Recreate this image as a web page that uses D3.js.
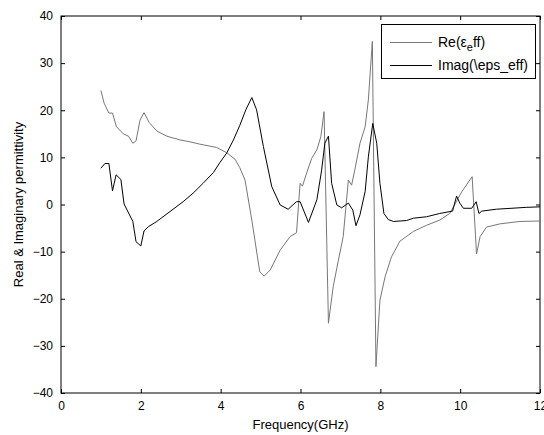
<!DOCTYPE html>
<html lang="en">
<head>
    <meta charset="UTF-8">
    <title>Real & Imaginary permittivity</title>
    <style>
        body { margin: 0; background: #fff; }
        svg { display: block; font-family: "Liberation Sans", Arial, sans-serif; }
    </style>
</head>
<body>
    <div id="chart"></div>

    <script src="https://d3js.org/d3.v7.min.js"></script>
    <script>
        // Re(eps_eff)
        const reFreq = [1.00, 1.08, 1.20, 1.29, 1.39, 1.56, 1.69, 1.80, 1.88, 1.98, 2.08, 2.21, 2.40, 2.65, 2.98,
            3.23, 3.48, 3.90, 4.15, 4.36, 4.48, 4.61, 4.78, 4.98, 5.09, 5.24, 5.49, 5.74, 5.90, 5.99,
            6.05, 6.14, 6.28, 6.41, 6.51, 6.59, 6.70, 6.82, 6.95, 7.07, 7.20, 7.28, 7.36, 7.49, 7.62,
            7.70, 7.80, 7.89, 7.99, 8.12, 8.28, 8.49, 8.83, 9.16, 9.49, 9.74, 10.04, 10.30, 10.41, 10.50,
            10.66, 11.00, 11.50, 12.00];
        const reVals = [24.2, 21.5, 19.4, 19.4, 16.5, 15.0, 14.5, 13.0, 13.5, 17.9, 19.5, 17.4, 15.6, 14.5, 13.7,
            13.3, 12.8, 12.1, 11.0, 9.6, 7.8, 5.2, -3.3, -14.3, -15.2, -13.9, -9.7, -6.8, -6.0, 4.5,
            3.9, 6.3, 9.8, 11.6, 14.4, 19.7, -25.2, -17.4, -11.8, -6.8, 5.2, 4.1, 7.3, 13.0, 16.5,
            22.2, 34.6, -34.4, -20.3, -15.3, -11.1, -7.8, -5.7, -4.4, -3.3, -1.9, 2.7, 5.9, -10.5, -6.8,
            -4.8, -4.1, -3.6, -3.5];

        // Imag(eps_eff)
        const imFreq = [1.00, 1.10, 1.20, 1.29, 1.38, 1.50, 1.58, 1.80, 1.88, 2.00, 2.08, 2.19, 2.40, 2.73, 3.06,
            3.31, 3.56, 3.82, 3.98, 4.15, 4.32, 4.48, 4.63, 4.78, 4.90, 5.07, 5.28, 5.49, 5.69, 5.90,
            5.99, 6.20, 6.41, 6.53, 6.61, 6.70, 6.78, 6.91, 7.03, 7.20, 7.31, 7.39, 7.49, 7.62, 7.70,
            7.81, 7.91, 7.99, 8.09, 8.20, 8.33, 8.66, 8.83, 9.16, 9.49, 9.81, 9.91, 9.99, 10.08, 10.29,
            10.40, 10.47, 10.54, 10.91, 11.67, 12.00];
        const imVals = [7.7, 8.7, 8.7, 2.9, 6.3, 5.3, 0.1, -3.6, -7.9, -8.8, -5.6, -4.7, -3.6, -1.5, 0.6,
            2.4, 4.5, 6.8, 8.9, 10.9, 13.7, 16.8, 20.1, 22.7, 20.1, 12.3, 3.8, -0.1, -1.0, 0.6,
            0.6, -3.8, 1.0, 7.3, 13.0, 14.5, 4.5, -0.1, -0.7, 0.3, -1.2, -4.5, -2.2, 2.8, 10.1,
            17.2, 13.0, 4.5, -1.9, -3.2, -3.6, -3.4, -2.9, -2.6, -1.9, -1.4, 1.8, 0.3, -0.8, -0.8,
            0.6, -1.9, -1.4, -1.0, -0.6, -0.5];

        const xTicks = [0, 2, 4, 6, 8, 10, 12];
        const yTicks = [-40, -30, -20, -10, 0, 10, 20, 30, 40];

        const width = 544;
        const height = 435;
        const margin = { top: 16, right: 4, bottom: 42, left: 61 };
        const plotW = width - margin.left - margin.right;
        const plotH = height - margin.top - margin.bottom;

        const svg = d3.select("#chart").append("svg")
            .attr("width", width)
            .attr("height", height);

        const g = svg.append("g")
            .attr("transform", `translate(${margin.left}, ${margin.top})`);

        const x = d3.scaleLinear().domain([0, 12]).range([0, plotW]);
        const y = d3.scaleLinear().domain([-40, 40]).range([plotH, 0]);

        // axes, matlab style: ticks inside on all four sides
        const tickLen = 4;
        g.append("g")
            .attr("transform", `translate(0, ${plotH})`)
            .call(d3.axisBottom(x).tickValues(xTicks).tickSizeInner(-tickLen).tickSizeOuter(0).tickPadding(8))
            .call(a => a.select(".domain").remove());
        g.append("g")
            .call(d3.axisTop(x).tickValues(xTicks).tickSizeInner(-tickLen).tickSizeOuter(0).tickFormat(""))
            .call(a => a.select(".domain").remove());
        g.append("g")
            .call(d3.axisLeft(y).tickValues(yTicks).tickSizeInner(-tickLen).tickSizeOuter(0).tickPadding(8))
            .call(a => a.select(".domain").remove());
        g.append("g")
            .attr("transform", `translate(${plotW}, 0)`)
            .call(d3.axisRight(y).tickValues(yTicks).tickSizeInner(-tickLen).tickSizeOuter(0).tickFormat(""))
            .call(a => a.select(".domain").remove());

        g.selectAll(".tick text")
            .style("font-size", "12px")
            .style("fill", "#000");
        g.selectAll(".tick line").attr("stroke", "#000");

        g.append("rect")
            .attr("width", plotW)
            .attr("height", plotH)
            .attr("fill", "none")
            .attr("stroke", "#000")
            .attr("stroke-width", 1);

        const line = d3.line()
            .x(d => x(d[0]))
            .y(d => y(d[1]));

        const reData = reFreq.map((f, i) => [f, reVals[i]]);
        const imData = imFreq.map((f, i) => [f, imVals[i]]);

        g.append("path")
            .datum(reData)
            .attr("d", line)
            .attr("fill", "none")
            .attr("stroke", "#777")
            .attr("stroke-width", 1);

        g.append("path")
            .datum(imData)
            .attr("d", line)
            .attr("fill", "none")
            .attr("stroke", "#000")
            .attr("stroke-width", 1);

        // axis labels
        svg.append("text")
            .attr("x", margin.left + plotW / 2)
            .attr("y", 429)
            .attr("text-anchor", "middle")
            .style("font-size", "13px")
            .text("Frequency(GHz)");

        svg.append("text")
            .attr("transform", `translate(23, ${margin.top + plotH / 2}) rotate(-90)`)
            .attr("text-anchor", "middle")
            .style("font-size", "13px")
            .text("Real & Imaginary permittivity");

        // legend
        const legend = svg.append("g");
        legend.append("rect")
            .attr("x", 381.5)
            .attr("y", 24.5)
            .attr("width", 154)
            .attr("height", 54)
            .attr("fill", "#fff")
            .attr("stroke", "#000");

        const items = [
            { color: "#777", y: 42 },
            { color: "#000", y: 65 }
        ];
        items.forEach(d => {
            legend.append("line")
                .attr("x1", 390).attr("x2", 432)
                .attr("y1", d.y + 0.5).attr("y2", d.y + 0.5)
                .attr("stroke", d.color);
        });

        const t1 = legend.append("text")
            .attr("x", 438)
            .attr("y", 47)
            .style("font-size", "14px");
        t1.append("tspan").text("Re(ε");
        t1.append("tspan").attr("dy", 4).style("font-size", "11px").text("e");
        t1.append("tspan").attr("dy", -4).text("ff)");

        legend.append("text")
            .attr("x", 438)
            .attr("y", 70)
            .style("font-size", "14px")
            .text("Imag(\\eps_eff)");
    </script>
</body>
</html>
